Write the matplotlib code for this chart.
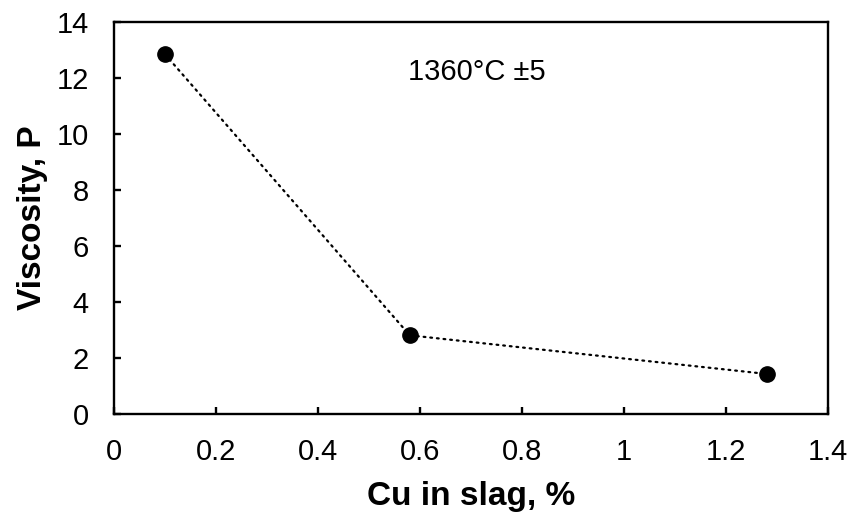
import matplotlib
matplotlib.use('Agg')
import matplotlib.pyplot as plt

plt.rcParams['font.family'] = ['Liberation Sans', 'DejaVu Sans']

# dados
cu_slag = [0.10, 0.58, 1.28]
viscosidade = [12.85, 2.81, 1.43]

fig = plt.figure(figsize=(8.52, 5.13), dpi=100)
ax = fig.add_axes([0.1338, 0.193, 0.838, 0.764])

ax.plot(cu_slag, viscosidade, color='black', linestyle=(0, (0.8, 2.2)),
        linewidth=1.6, dash_capstyle='round',
        marker='o', markersize=11)

ax.set_xlim(0, 1.4)
ax.set_ylim(0, 14)
ax.set_xticks([0, 0.2, 0.4, 0.6, 0.8, 1.0, 1.2, 1.4])
ax.set_xticklabels(['0', '0.2', '0.4', '0.6', '0.8', '1', '1.2', '1.4'])
ax.set_yticks(range(0, 15, 2))

ax.tick_params(direction='in', length=5, width=1.7, labelsize=21)
ax.tick_params(axis='x', pad=17)
ax.tick_params(axis='y', pad=18)
for s in ax.spines.values():
    s.set_linewidth(1.7)

ax.set_xlabel('Cu in slag, %', fontsize=24, fontweight='bold', labelpad=11)
ax.set_ylabel('Viscosity, P', fontsize=24, fontweight='bold', labelpad=6)

ax.text(0.576, 12.2, '1360°C ±5', fontsize=21, va='center', ha='left')

fig.savefig('out.png', dpi=100)
